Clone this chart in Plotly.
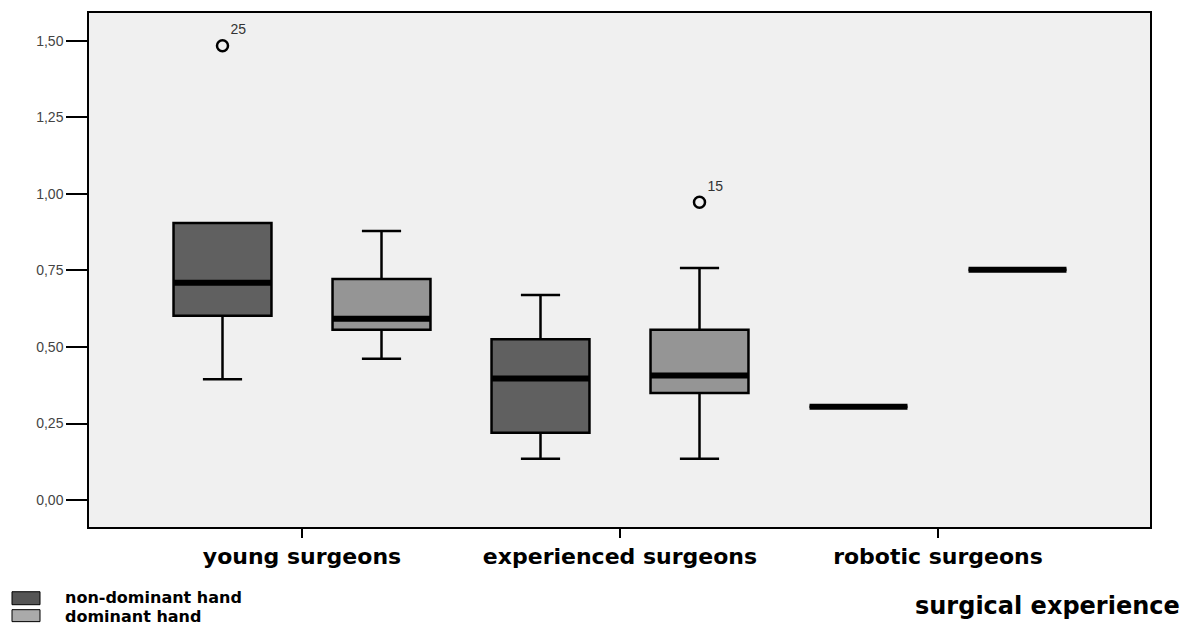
import plotly.graph_objects as go

# ---- data ----
categories = ["young surgeons", "experienced surgeons", "robotic surgeons"]
series_names = ["non-dominant hand", "dominant hand"]

nd_lower = [0.395, 0.135, 0.305]
nd_q1 = [0.602, 0.220, 0.305]
nd_median = [0.710, 0.397, 0.305]
nd_q3 = [0.905, 0.525, 0.305]
nd_upper = [0.905, 0.670, 0.305]

d_lower = [0.462, 0.135, 0.752]
d_q1 = [0.556, 0.350, 0.752]
d_median = [0.592, 0.407, 0.752]
d_q3 = [0.722, 0.556, 0.752]
d_upper = [0.879, 0.758, 0.752]

outlier_cat = [0, 1]          # category index
outlier_series = [0, 1]       # 0 = non-dominant, 1 = dominant
outlier_values = [1.484, 0.973]
outlier_labels = ["25", "15"]

y_tickvals = [0.0, 0.25, 0.5, 0.75, 1.0, 1.25, 1.5]

# ---- styling ----
PAGE_W, PAGE_H = 1195, 629
BODY = 8                      # default page margin around the figure
W, H = PAGE_W - BODY, PAGE_H - BODY
L, R, T, B = 89, 1150, 11, 527   # plot area in page pixels
offset = 0.25
box_w = 0.308
dark = "#606060"
light = "#959595"
bg = "#f0f0f0"

def px_x(px):
    return (px - L) / (R - L)

def px_y(py):
    return (B - py) / (B - T)

fig = go.Figure()

groups = [
    (nd_lower, nd_q1, nd_median, nd_q3, nd_upper, -offset, dark, series_names[0]),
    (d_lower, d_q1, d_median, d_q3, d_upper, offset, light, series_names[1]),
]
for lo, q1, med, q3, up, off, col, name in groups:
    xs = [i + off for i in range(len(categories))]
    fig.add_trace(go.Box(
        x=xs, q1=q1, median=med, q3=q3, lowerfence=lo, upperfence=up,
        width=box_w, whiskerwidth=0.4, fillcolor=col,
        line=dict(color="black", width=2.5), name=name, showlegend=False,
        boxpoints=False, hoverinfo="skip",
    ))
    mx, my = [], []
    for x, m in zip(xs, med):
        mx += [x - box_w / 2, x + box_w / 2, None]
        my += [m, m, None]
    fig.add_trace(go.Scatter(x=mx, y=my, mode="lines",
                             line=dict(color="black", width=6),
                             showlegend=False, hoverinfo="skip"))

ox = [c + (offset if s == 1 else -offset) for c, s in zip(outlier_cat, outlier_series)]
fig.add_trace(go.Scatter(
    x=ox, y=outlier_values, mode="markers+text", text=outlier_labels,
    textposition="top right",
    textfont=dict(family="Liberation Sans", size=14, color="#333"),
    marker=dict(symbol="circle-open", size=11, color="black", line=dict(width=2.5)),
    showlegend=False, hoverinfo="skip",
))

# legend (drawn manually)
shapes = [
    dict(type="rect", xref="paper", yref="paper", x0=px_x(12), x1=px_x(40),
         y0=px_y(605), y1=px_y(592), fillcolor="#555555", line=dict(color="black", width=1)),
    dict(type="rect", xref="paper", yref="paper", x0=px_x(12), x1=px_x(40),
         y0=px_y(622), y1=px_y(610), fillcolor="#aaaaaa", line=dict(color="black", width=1)),
]
annotations = [
    dict(xref="paper", yref="paper", x=px_x(63), y=px_y(598), xanchor="left", yanchor="middle",
         text=series_names[0], showarrow=False,
         font=dict(family="DejaVu Sans", size=16, color="black", weight="bold")),
    dict(xref="paper", yref="paper", x=px_x(63), y=px_y(617), xanchor="left", yanchor="middle",
         text=series_names[1], showarrow=False,
         font=dict(family="DejaVu Sans", size=16, color="black", weight="bold")),
    dict(xref="paper", yref="paper", x=px_x(1182), y=px_y(606), xanchor="right", yanchor="middle",
         text="surgical experience", showarrow=False,
         font=dict(family="DejaVu Sans", size=24, color="black", weight="bold")),
]

fig.update_layout(
    width=W, height=H,
    margin=dict(l=L - BODY, r=PAGE_W - R, t=T - BODY, b=PAGE_H - B),
    paper_bgcolor="white", plot_bgcolor=bg,
    separators=",.",
    shapes=shapes, annotations=annotations,
    showlegend=False,
    xaxis=dict(
        range=[(L - 302) / 318, (R - 302) / 318],
        tickvals=list(range(len(categories))), ticktext=categories,
        ticks="outside", ticklen=9, tickwidth=2, tickcolor="black",
        showgrid=False, zeroline=False,
        showline=True, linecolor="black", linewidth=1.5, mirror=True,
        tickfont=dict(family="DejaVu Sans", size=22, color="black", weight="bold"),
    ),
    yaxis=dict(
        range=[-0.088, 1.591],
        tickvals=y_tickvals, tickformat=".2f",
        ticks="outside", ticklen=21, tickwidth=1.5, tickcolor="black",
        showgrid=False, zeroline=False,
        showline=True, linecolor="black", linewidth=1.5, mirror=True,
        tickfont=dict(family="Liberation Sans", size=14, color="#444"),
    ),
)

fig.write_html("out.html")
